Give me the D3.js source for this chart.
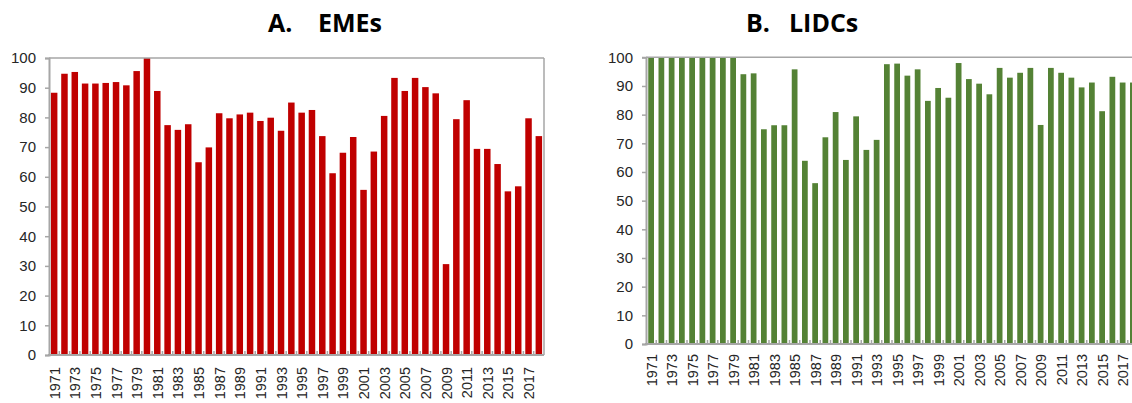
<!DOCTYPE html>
<html><head><meta charset="utf-8">
<script src="https://cdn.jsdelivr.net/npm/d3@7"></script>
<style>
html,body{margin:0;padding:0;background:#fff;}
svg{display:block;}
</style></head>
<body>
<svg id="chart" width="1132" height="403"></svg>
<script>
const years = d3.range(1971, 2019).map(String);
const yTicks = [0,10,20,30,40,50,60,70,80,90,100];
const emeValues = [88.3,94.7,95.3,91.4,91.4,91.6,91.9,90.8,95.6,100,
  88.9,77.4,75.8,77.7,64.9,69.9,81.4,79.7,81.0,81.6,
  78.8,79.9,75.5,85.0,81.6,82.5,73.7,61.2,68.1,73.4,
  55.6,68.5,80.5,93.3,88.9,93.3,90.2,88.1,30.6,79.4,
  85.8,69.4,69.4,64.3,55.1,56.8,79.7,73.7];
const lidcValues = [100,100,100,100,100,100,100,100,100,94.1,
  94.4,74.9,76.3,76.3,95.8,63.9,56.1,72.1,80.9,64.2,
  79.4,67.7,71.2,97.6,97.8,93.6,95.8,84.8,89.3,85.9,
  98.0,92.4,90.8,87.1,96.3,92.9,94.6,96.3,76.4,96.3,
  94.6,92.9,89.5,91.2,81.2,93.2,91.2,91.2];
const titles = [["A.","EMEs"],["B.","LIDCs"]];

const svg = d3.select("#chart");
const axisColor = "#a6a6a6";
const textColor = "#262626";

function panel(cfg){
  const g = svg.append("g");
  const x = d3.scaleBand().domain(years).range([cfg.x0, cfg.x1])
    .paddingInner(cfg.pad).paddingOuter(cfg.pad/2);
  const y = d3.scaleLinear().domain([0,100]).range([cfg.y0, cfg.y1]);
  const bw = x.step();

  g.selectAll("rect.bar").data(cfg.values).enter().append("rect")
    .attr("x",(d,i)=>x(years[i]))
    .attr("width",x.bandwidth())
    .attr("y",d=>y(d))
    .attr("height",d=>y(0)-y(d))
    .attr("fill",cfg.color);

  g.append("line").attr("x1",cfg.x0).attr("x2",cfg.x1).attr("y1",cfg.y1).attr("y2",cfg.y1)
    .attr("stroke",axisColor).attr("stroke-width",1.5);
  if (cfg.rightBorder) {
    g.append("line").attr("x1",cfg.x1).attr("x2",cfg.x1).attr("y1",cfg.y1).attr("y2",cfg.y0)
      .attr("stroke",axisColor).attr("stroke-width",1.5);
  }
  const ya = d3.axisLeft(y).tickValues(yTicks).tickSize(4).tickPadding(9).tickFormat(d3.format("d"));
  const yg = g.append("g").attr("transform",`translate(${cfg.x0},0)`).call(ya);
  yg.select(".domain").attr("stroke",axisColor).attr("stroke-width",2);
  yg.selectAll(".tick line").attr("stroke",axisColor).attr("stroke-width",1.5);
  yg.selectAll(".tick text").attr("fill",textColor)
    .style("font-family","'Liberation Sans', Arial, sans-serif").style("font-size","15px");

  g.append("line").attr("x1",cfg.x0-1).attr("x2",cfg.x1).attr("y1",cfg.y0).attr("y2",cfg.y0)
    .attr("stroke",axisColor).attr("stroke-width",2);
  g.selectAll("line.ct").data(d3.range(1, years.length)).enter().append("line")
    .attr("x1",i=>cfg.x0 + i*bw).attr("x2",i=>cfg.x0 + i*bw)
    .attr("y1",cfg.y0).attr("y2",cfg.y0-4)
    .attr("stroke",axisColor).attr("stroke-width",1.5);

  const labYears = years.filter((d,i)=>i%2===0);
  g.selectAll("text.yl").data(labYears).enter().append("text")
    .attr("transform",d=>`translate(${x(d)+x.bandwidth()/2+5.5},${cfg.labelTop}) rotate(-90)`)
    .attr("text-anchor","end")
    .attr("fill",textColor)
    .style("font-family","'Liberation Sans', Arial, sans-serif").style("font-size","14.5px")
    .text(d=>d);

  const t = g.append("text").attr("y",32).attr("fill","#000")
    .style("font-family","'Open Sans', sans-serif").style("font-weight","700").style("font-size","25px");
  t.append("tspan").attr("x",cfg.tx1).text(cfg.title[0]);
  t.append("tspan").attr("x",cfg.tx2).text(cfg.title[1]);
}

panel({values:emeValues, color:"#c00000", x0:49, x1:544, y0:355, y1:58, pad:0.37,
  labelTop:367, rightBorder:true, title:titles[0], tx1:268, tx2:318});
panel({values:lidcValues, color:"#548235", x0:646, x1:1138, y0:344, y1:57.3, pad:0.44,
  labelTop:354, rightBorder:false, title:titles[1], tx1:746, tx2:789});
</script>
</body></html>
